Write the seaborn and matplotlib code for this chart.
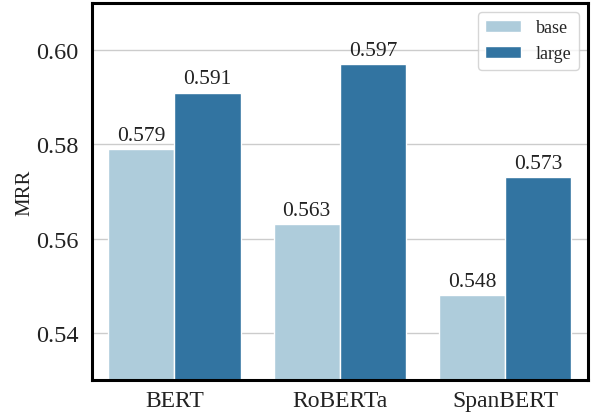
import matplotlib
matplotlib.use("Agg")
import matplotlib.pyplot as plt
import seaborn as sns
import pandas as pd

models = ["BERT", "RoBERTa", "SpanBERT"]
sizes = ["base", "large"]
base_vals = [0.579, 0.563, 0.548]
large_vals = [0.591, 0.597, 0.573]
yticks = [0.54, 0.56, 0.58, 0.60]

df = pd.DataFrame({
    "model": models * 2,
    "size": ["base"] * 3 + ["large"] * 3,
    "MRR": base_vals + large_vals,
})

sns.set_theme(style="whitegrid")
plt.rcParams["font.family"] = ["Liberation Serif", "DejaVu Serif"]

fig, ax = plt.subplots(figsize=(5.92, 4.14), dpi=100)
sns.barplot(data=df, x="model", y="MRR", hue="size", palette="Paired",
            edgecolor="white", linewidth=1, ax=ax)

for c in ax.containers:
    ax.bar_label(c, fmt="%.3f", fontsize=15.5, padding=3, color="#222222")

ax.set_ylim(0.53, 0.61)
ax.set_yticks(yticks)
ax.set_yticklabels([f"{t:.2f}" for t in yticks], fontsize=17.5, color="#222222")
ax.tick_params(axis="x", labelsize=17, labelcolor="#222222", pad=1)
ax.set_xlabel("")
ax.set_ylabel("MRR", fontsize=15, color="#222222", labelpad=1)
for s in ax.spines.values():
    s.set_color("black")
    s.set_linewidth(2.2)
ax.grid(axis="x", visible=False)
leg = ax.legend(loc="upper right", fontsize=13, title=None)

plt.subplots_adjust(left=0.155, right=0.993, top=0.99, bottom=0.08)
fig.savefig("out.png", dpi=100)
